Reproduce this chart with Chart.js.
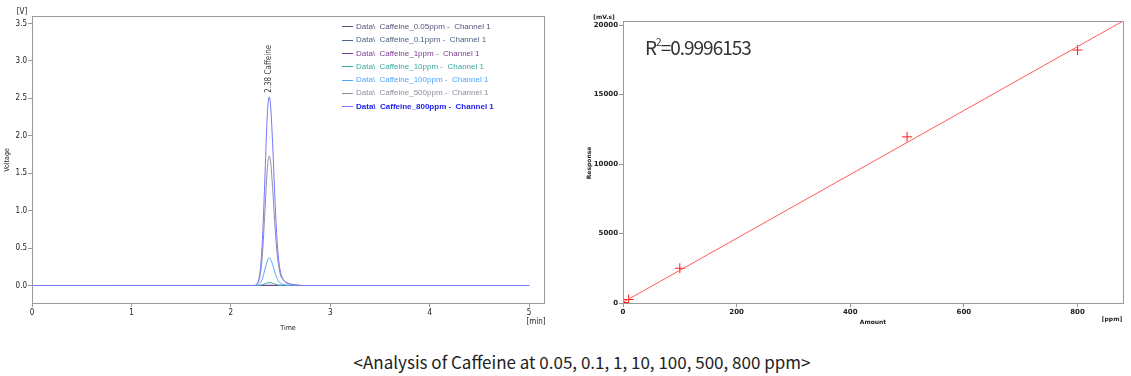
<!DOCTYPE html>
<html>
<head>
<meta charset="utf-8">
<script src="https://cdn.jsdelivr.net/npm/chart.js@4.4.1/dist/chart.umd.min.js"></script>
<style>
  html, body { margin: 0; padding: 0; background: #fff; }
  body { width: 1131px; height: 376px; position: relative; overflow: hidden; }
  #left { position: absolute; left: 0; top: 0; }
  #right { position: absolute; left: 570px; top: 0; }
  #legend { position: absolute; left: 342px; top: 20px; font: 8px "Liberation Sans", Arial, sans-serif; }
  #legend div { height: 13.3px; line-height: 13.3px; white-space: pre; }
  #legend span.ln { display: inline-block; width: 11px; height: 0; border-top: 1px solid; vertical-align: middle; margin-right: 3px; }
  #r2 { position: absolute; left: 645px; top: 33px; font: 19px "Noto Sans CJK KR", "Noto Sans", sans-serif; color: #333; letter-spacing: -1px; }
  #r2 sup { font-size: 10px; position: relative; top: -2px; }
  #caption { position: absolute; left: 0; width: 1164px; top: 349px; text-align: center; font: 17px "Noto Sans CJK KR", "Noto Sans", sans-serif; color: #222; letter-spacing: 0; }
</style>
</head>
<body>
<canvas id="left" width="560" height="340"></canvas>
<canvas id="right" width="561" height="340"></canvas>
<div id="legend"></div>
<div id="r2">R<sup>2</sup>=0.9996153</div>
<div id="caption">&lt;Analysis of Caffeine at 0.05, 0.1, 1, 10, 100, 500, 800 ppm&gt;</div>
<script>
// chromatogram: retention time [min] and voltage [V] per standard
const times = [0, 2.24, 2.26, 2.28, 2.30, 2.32, 2.34, 2.36, 2.37, 2.385, 2.40, 2.42, 2.44, 2.46, 2.48, 2.50, 2.53, 2.56, 2.60, 2.65, 2.72, 5.0];
const v005 = [0, 0, 0, 0, 0, 0, 0.0001, 0.0001, 0.0002, 0.0002, 0.0002, 0.0001, 0.0001, 0, 0, 0, 0, 0, 0, 0, 0, 0];
const v01  = [0, 0, 0, 0, 0, 0.0001, 0.0002, 0.0003, 0.0004, 0.0004, 0.0004, 0.0003, 0.0002, 0.0001, 0, 0, 0, 0, 0, 0, 0, 0];
const v1   = [0, 0, 0, 0, 0.0004, 0.001, 0.002, 0.003, 0.0036, 0.004, 0.0038, 0.003, 0.002, 0.0012, 0.0006, 0.0003, 0.0001, 0, 0, 0, 0, 0];
const v10  = [0, 0, 0, 0.001, 0.004, 0.011, 0.021, 0.031, 0.036, 0.040, 0.038, 0.030, 0.020, 0.012, 0.006, 0.003, 0.0014, 0.0006, 0.0003, 0.0001, 0, 0];
const v100 = [0, 0, 0.003, 0.012, 0.04, 0.10, 0.20, 0.30, 0.34, 0.37, 0.35, 0.28, 0.19, 0.11, 0.058, 0.03, 0.013, 0.006, 0.003, 0.001, 0, 0];
const v500 = [0, 0, 0.014, 0.055, 0.18, 0.46, 0.92, 1.42, 1.61, 1.73, 1.65, 1.31, 0.87, 0.50, 0.27, 0.14, 0.07, 0.035, 0.017, 0.007, 0, 0];
const v800 = [0, 0.001, 0.02, 0.08, 0.26, 0.67, 1.34, 2.07, 2.35, 2.52, 2.40, 1.91, 1.27, 0.71, 0.36, 0.18, 0.08, 0.04, 0.02, 0.008, 0, 0];
const seriesNames = ['Data\\  Caffeine_0.05ppm -  Channel 1', 'Data\\  Caffeine_0.1ppm -  Channel 1', 'Data\\  Caffeine_1ppm -  Channel 1',
  'Data\\  Caffeine_10ppm -  Channel 1', 'Data\\  Caffeine_100ppm -  Channel 1', 'Data\\  Caffeine_500ppm -  Channel 1', 'Data\\  Caffeine_800ppm -  Channel 1'];
const seriesValues = [v005, v01, v1, v10, v100, v500, v800];
const seriesColors = ['#55557e', '#4c6482', '#7a3c8e', '#3aa89e', '#4ea6ff', '#8e8e9e', '#7474ff'];
const timeTicks = [0, 1, 2, 3, 4, 5];
const voltTicks = [0, 0.5, 1, 1.5, 2, 2.5, 3, 3.5];

// calibration: amount [ppm] vs response [mV.s]
const amounts = [0.05, 0.1, 1, 10, 100, 500, 800];
const responses = [10, 20, 30, 250, 2500, 11960, 18210];
const fitAmounts = [0, 880];
const fitResponses = [50, 20300];
const amountTicks = [0, 200, 400, 600, 800];
const responseTicks = [0, 5000, 10000, 15000, 20000];

const GRAY = '#999';

// legend
const lg = document.getElementById('legend');
seriesNames.forEach((n, i) => {
  const d = document.createElement('div');
  d.style.color = seriesColors[i];
  if (i === seriesNames.length - 1) { d.style.fontWeight = 'bold'; d.style.color = '#2222ee'; }
  d.innerHTML = '<span class="ln" style="border-color:' + seriesColors[i] + '"></span>';
  d.appendChild(document.createTextNode(n));
  lg.appendChild(d);
});

function setTicks(list) { return s => { s.ticks = list.map(v => ({ value: v })); }; }

const frame = {
  id: 'frame',
  afterDraw(c, args, opts) {
    const ctx = c.ctx, a = c.chartArea;
    ctx.save();
    ctx.strokeStyle = GRAY; ctx.lineWidth = 1;
    ctx.strokeRect(Math.round(a.left) + 0.5, Math.round(a.top) + 0.5, Math.round(a.right - a.left), Math.round(a.bottom - a.top));
    ctx.fillStyle = '#222';
    ctx.textAlign = 'center'; ctx.textBaseline = 'middle';
    (opts.texts || []).forEach(t => {
      ctx.save();
      ctx.font = t.font;
      ctx.translate(t.x, t.y);
      if (t.rot) ctx.rotate(t.rot);
      ctx.fillText(t.text, 0, 0);
      ctx.restore();
    });
    if (opts.peak) {
      const x = c.scales.x.getPixelForValue(opts.peak.t);
      const y = c.scales.y.getPixelForValue(opts.peak.v) - 4;
      ctx.font = '8px "DejaVu Sans Condensed", sans-serif';
      ctx.fillStyle = '#444';
      ctx.translate(x, y);
      ctx.rotate(-Math.PI / 2);
      ctx.textAlign = 'left';
      ctx.fillText(opts.peak.label, 0, 0);
    }
    ctx.restore();
  }
};

function axis(min, max, ticks, fmt, font, fit) {
  return {
    type: 'linear', min, max,
    afterBuildTicks: setTicks(ticks),
    afterFit: fit,
    border: { display: true, color: GRAY },
    grid: { drawOnChartArea: false, drawTicks: true, tickLength: 4, color: GRAY },
    ticks: { callback: fmt, font, color: '#222', padding: 1, maxRotation: 0, autoSkip: false }
  };
}

// first dataset is drawn top-most, so go from 800 ppm down to 0.05 ppm
const drawOrder = [6, 5, 4, 3, 2, 1, 0];
new Chart(document.getElementById('left'), {
  type: 'line',
  data: {
    datasets: drawOrder.map(i => ({
      label: seriesNames[i],
      data: times.map((t, k) => ({ x: t, y: seriesValues[i][k] })),
      borderColor: seriesColors[i], borderWidth: 1, pointRadius: 0,
      cubicInterpolationMode: 'monotone', fill: false
    }))
  },
  options: {
    responsive: false, animation: false, events: [],
    layout: { padding: { left: 0, top: 16, right: 16, bottom: 0 } },
    plugins: {
      legend: { display: false }, tooltip: { enabled: false },
      frame: {
        peak: { t: 2.385, v: 2.52, label: '2.38 Caffeine' },
        texts: [
          { text: '[V]', x: 22, y: 12, font: '8px "DejaVu Sans Condensed", sans-serif' },
          { text: 'Voltage', x: 7, y: 160, rot: -Math.PI / 2, font: '7px "DejaVu Sans Condensed", sans-serif' },
          { text: 'Time', x: 288, y: 328, font: '7px "DejaVu Sans Condensed", sans-serif' },
          { text: '[min]', x: 536, y: 322, font: '8px "DejaVu Sans Condensed", sans-serif' }
        ]
      }
    },
    scales: {
      x: axis(0, 5.15, timeTicks, v => String(v), { family: 'DejaVu Sans Condensed', size: 8 }, s => { s.height = 37; }),
      y: axis(-0.2337, 3.6, voltTicks, v => v.toFixed(1), { family: 'DejaVu Sans Condensed', size: 8 }, s => { s.width = 32; })
    }
  },
  plugins: [frame]
});

const boldFont = { family: 'DejaVu Sans', size: 7, weight: 'bold' };
new Chart(document.getElementById('right'), {
  type: 'scatter',
  data: {
    datasets: [
      {
        data: fitAmounts.map((a, k) => ({ x: a, y: fitResponses[k] })),
        showLine: true, borderColor: '#ff5a5a', borderWidth: 1, pointRadius: 0
      },
      {
        data: amounts.map((a, k) => ({ x: a, y: responses[k] })),
        showLine: false, pointStyle: 'cross', pointRadius: 5, borderColor: '#ff1a1a', borderWidth: 1
      }
    ]
  },
  options: {
    responsive: false, animation: false, events: [],
    layout: { padding: { left: 0, top: 21, right: 8, bottom: 0 } },
    plugins: {
      legend: { display: false }, tooltip: { enabled: false },
      frame: {
        texts: [
          { text: '[mV.s]', x: 34, y: 17, font: 'bold 6px "DejaVu Sans", sans-serif' },
          { text: 'Response', x: 19, y: 163, rot: -Math.PI / 2, font: 'bold 6px "DejaVu Sans", sans-serif' },
          { text: 'Amount', x: 303, y: 322, font: 'bold 6px "DejaVu Sans", sans-serif' },
          { text: '[ppm]', x: 542, y: 319, font: 'bold 6px "DejaVu Sans", sans-serif' }
        ]
      }
    },
    scales: {
      x: axis(0, 880, amountTicks, v => String(v), boldFont, s => { s.height = 37; }),
      y: axis(0, 20300, responseTicks, v => String(v), boldFont, s => { s.width = 53; })
    }
  },
  plugins: [frame]
});
</script>
</body>
</html>
